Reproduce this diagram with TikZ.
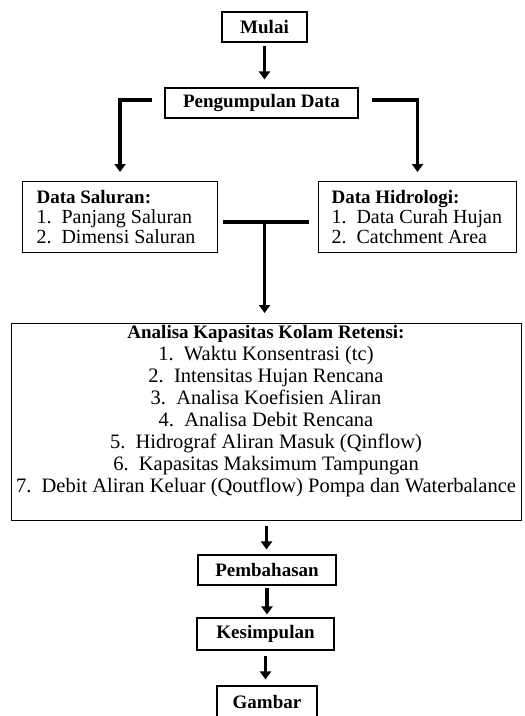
\documentclass[tikz,border=0pt]{standalone}
\usepackage{fontspec}
\setmainfont{Liberation Serif}
\usetikzlibrary{arrows.meta}

\newcommand{\bodysize}{\fontsize{20.5}{22}\selectfont}
\newcommand{\listsize}{\fontsize{20}{20}\selectfont}
\newcommand{\headsize}{\fontsize{19}{22}\selectfont}
\newcommand{\itemno}[2]{\mbox{\makebox[25pt][l]{#1}#2}}
\newcommand{\num}[1]{#1\hspace{0.5em}}

\tikzset{
  box/.style={draw, line width=1.1pt, font=\headsize\bfseries},
  listbox/.style={draw, line width=1.1pt, anchor=north west, align=flush left, minimum height=71pt, font=\listsize},
  arr/.style={line width=3.5pt, -{Triangle[width=11pt,length=8pt]}},
  link/.style={line width=3.5pt},
}

\begin{document}
\begin{tikzpicture}[x=1pt,y=-1pt]
    \clip (0,0) rectangle (525,716);
    \node[box, minimum width=85pt, minimum height=30pt] (mulai) at (264.5,27) {Mulai};
    \node[box, minimum width=193pt, minimum height=30pt] (pengumpulan) at (261.5,103) {Pengumpulan Data};
    \node[listbox, text width=167pt, inner xsep=14pt] (saluran) at (22,181) {{\headsize\textbf{Data Saluran:}}\\ \itemno{1.}{Panjang Saluran}\\ \itemno{2.}{Dimensi Saluran}};
    \node[listbox, text width=172pt, inner xsep=13pt] (hidrologi) at (318,181) {{\headsize\textbf{Data Hidrologi:}}\\ \itemno{1.}{Data Curah Hujan}\\ \itemno{2.}{Catchment Area}};
    \node[draw, line width=1.1pt, anchor=north west, minimum width=510pt, minimum height=197pt] (analisa) at (11,323) {};
    \node[anchor=north, align=center, inner sep=0pt, font=\bodysize] (analisatext) at (266,325) {{\headsize\textbf{Analisa Kapasitas Kolam Retensi:}}\\
        \num{1.}Waktu Konsentrasi (tc)\\
        \num{2.}Intensitas Hujan Rencana\\
        \num{3.}Analisa Koefisien Aliran\\
        \num{4.}Analisa Debit Rencana\\
        \num{5.}Hidrograf Aliran Masuk (Qinflow)\\
        \num{6.}Kapasitas Maksimum Tampungan\\
        \num{7.}Debit Aliran Keluar (Qoutflow) Pompa dan Waterbalance};
    \node[box, minimum width=138pt, minimum height=30pt] (pembahasan) at (267,570) {Pembahasan};
    \node[box, minimum width=137pt, minimum height=32pt] (kesimpulan) at (265.5,634) {Kesimpulan};
    \node[box, minimum width=100pt, minimum height=32pt] (gambar) at (267,702) {Gambar};
    % connectors
    \draw[arr, shorten <=3pt, shorten >=8pt] (mulai.south) -- (mulai.south |- pengumpulan.north);
    \draw[arr, shorten <=12pt, shorten >=9pt] ([yshift=3pt]pengumpulan.west) -| (saluran.north);
    \draw[arr, shorten <=13pt, shorten >=9pt] ([yshift=3pt]pengumpulan.east) -| (hidrologi.north);
    \draw[link, shorten <=5pt, shorten >=9pt] ([yshift=-5pt]saluran.east) -- ([yshift=-5pt]saluran.east -| hidrologi.west);
    \draw[arr, shorten >=10pt] ([xshift=-2pt,yshift=-5pt]analisa.north |- saluran.east) -- ([xshift=-2pt]analisa.north);
    \draw[arr, shorten <=5pt, shorten >=5pt] (analisa.south) -- (analisa.south |- pembahasan.north);
    \draw[arr, shorten <=2pt, shorten >=3pt] (pembahasan.south) -- (pembahasan.south |- kesimpulan.north);
    \draw[arr, shorten <=5pt, shorten >=6pt] (kesimpulan.south) -- (kesimpulan.south |- gambar.north);
\end{tikzpicture}
\end{document}
